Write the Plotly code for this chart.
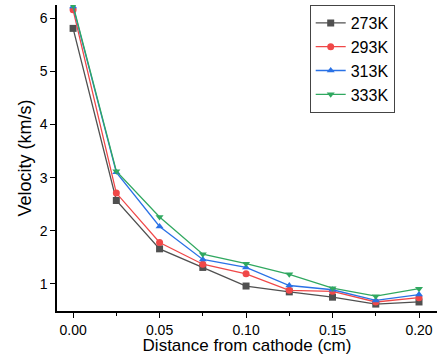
import plotly.graph_objects as go

x = [0.0, 0.025, 0.05, 0.075, 0.1, 0.125, 0.15, 0.175, 0.2]
v273 = [5.81, 2.57, 1.66, 1.31, 0.96, 0.85, 0.75, 0.62, 0.66]
v293 = [6.16, 2.71, 1.78, 1.37, 1.19, 0.88, 0.86, 0.66, 0.74]
v313 = [6.22, 3.10, 2.08, 1.46, 1.31, 0.97, 0.89, 0.69, 0.80]
v333 = [6.24, 3.12, 2.26, 1.56, 1.38, 1.18, 0.92, 0.77, 0.91]
names = ["273K", "293K", "313K", "333K"]
xticks = [0.0, 0.05, 0.1, 0.15, 0.2]
xticklabels = ["0.00", "0.05", "0.10", "0.15", "0.20"]
yticks = [1, 2, 3, 4, 5, 6]
colors = ["#505050", "#f04848", "#2a72e6", "#30a860"]
symbols = ["square", "circle", "triangle-up", "triangle-down"]

fig = go.Figure()
for name, ys, c, s in zip(names, [v273, v293, v313, v333], colors, symbols):
    fig.add_trace(go.Scatter(x=x, y=ys, name=name, mode="lines+markers",
                             line=dict(color=c, width=1.3),
                             marker=dict(symbol=s, size=7, color=c)))

fig.update_layout(
    width=439, height=355,
    margin=dict(l=57, r=2, t=5, b=44),
    paper_bgcolor="white", plot_bgcolor="white",
    font=dict(family="Liberation Sans, Arial, sans-serif", color="black", size=14),
    legend=dict(x=0.665, y=1.0, xanchor="left", yanchor="top",
                bordercolor="#444444", borderwidth=1, bgcolor="white",
                font=dict(size=16), tracegroupgap=0, itemwidth=30),
    showlegend=True,
)
fig.update_xaxes(range=[-0.0093, 0.2104], tickvals=xticks, ticktext=xticklabels,
                 showline=True, linecolor="black", linewidth=1.5,
                 ticks="outside", ticklen=5, tickwidth=1.2, tickcolor="black",
                 minor=dict(ticks="outside", ticklen=3, tickwidth=1.2, tickcolor="black",
                            tick0=0, dtick=0.025, showgrid=False),
                 showgrid=False, zeroline=False, automargin=False,
                 title=dict(text="Distance from cathode (cm)", font=dict(size=17), standoff=1))
fig.update_yaxes(range=[0.49, 6.25], tickvals=yticks,
                 showline=True, linecolor="black", linewidth=1.5,
                 ticks="outside", ticklen=5, tickwidth=1.2, tickcolor="black",
                 showgrid=False, zeroline=False, automargin=False,
                 title=dict(text="Velocity (km/s)", font=dict(size=18), standoff=3))

fig.write_html("out.html", config={"displayModeBar": False},
               post_script="document.body.style.margin='0';document.body.style.overflow='hidden';")
